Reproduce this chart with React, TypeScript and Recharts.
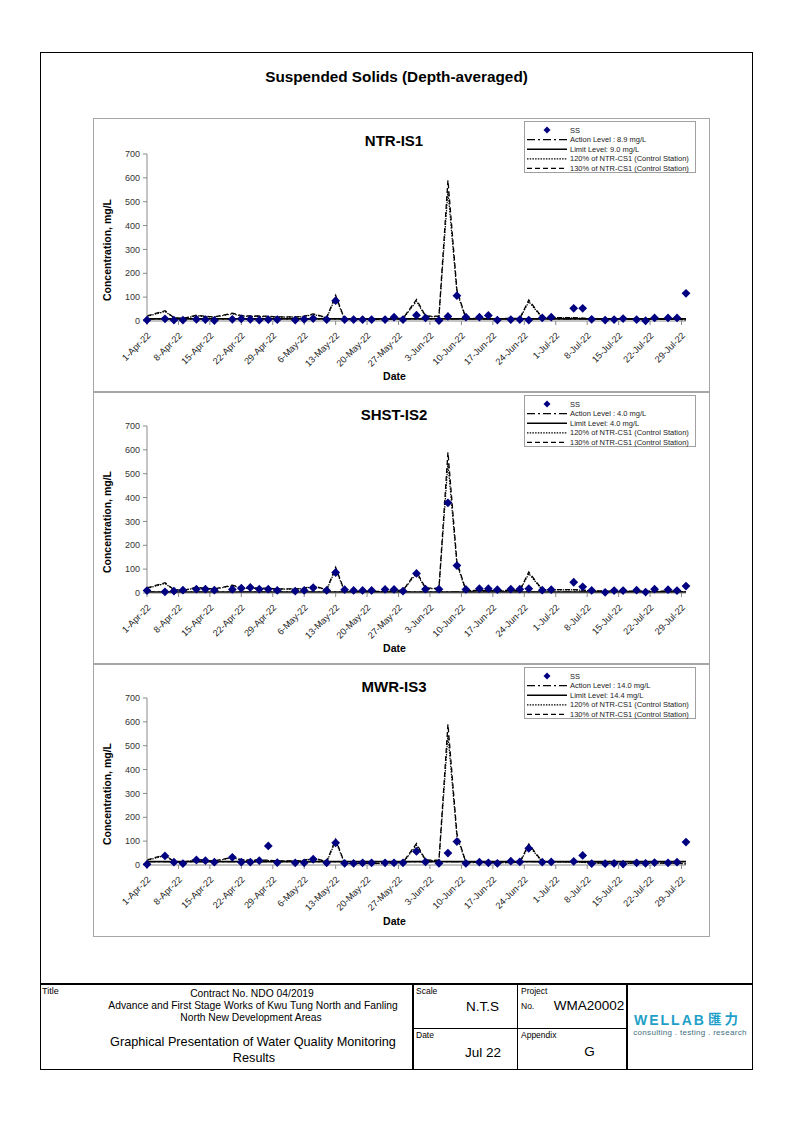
import React from 'react';
import { ComposedChart, Line, XAxis, YAxis, Label } from 'recharts';

const FONT = '"Liberation Sans", Arial, Helvetica, sans-serif';

// sampling dates (d-MMM-yy)
const sampleDates = [
  '1-Apr-22', '5-Apr-22', '7-Apr-22', '9-Apr-22', '12-Apr-22', '14-Apr-22', '16-Apr-22', '20-Apr-22',
  '22-Apr-22', '24-Apr-22', '26-Apr-22', '28-Apr-22', '30-Apr-22', '4-May-22', '6-May-22', '8-May-22',
  '11-May-22', '13-May-22', '15-May-22', '17-May-22', '19-May-22', '21-May-22', '24-May-22', '26-May-22',
  '28-May-22', '31-May-22', '2-Jun-22', '5-Jun-22', '7-Jun-22', '9-Jun-22', '11-Jun-22', '14-Jun-22',
  '16-Jun-22', '18-Jun-22', '21-Jun-22', '23-Jun-22', '25-Jun-22', '28-Jun-22', '30-Jun-22', '5-Jul-22',
  '7-Jul-22', '9-Jul-22', '12-Jul-22', '14-Jul-22', '16-Jul-22', '19-Jul-22', '21-Jul-22', '23-Jul-22',
  '26-Jul-22', '28-Jul-22', '30-Jul-22',
];

const tickLabels = [
  '1-Apr-22', '8-Apr-22', '15-Apr-22', '22-Apr-22', '29-Apr-22', '6-May-22', '13-May-22', '20-May-22',
  '27-May-22', '3-Jun-22', '10-Jun-22', '17-Jun-22', '24-Jun-22', '1-Jul-22', '8-Jul-22', '15-Jul-22',
  '22-Jul-22', '29-Jul-22',
];
const yTicks = [0, 100, 200, 300, 400, 500, 600, 700];

// SS, mg/L
const ssNTR = [
  4, 9, 4, 4, 7, 6, 2, 7, 9, 7, 4, 6, 6, 4, 7, 10, 6, 85, 6, 6, 6, 6, 6, 16, 6, 24,
  13, 2, 19, 106, 16, 16, 23, 4, 6, 6, 4, 13, 16, 53, 53, 7, 4, 6, 10, 6, 1, 13, 13, 13, 116,
];
const ssSHST = [
  10, 5, 8, 12, 16, 16, 12, 15, 20, 23, 16, 16, 11, 8, 11, 22, 11, 86, 14, 11, 11, 11, 15, 15, 8, 82,
  16, 16, 378, 115, 15, 18, 18, 14, 16, 16, 18, 12, 14, 45, 26, 11, 3, 10, 10, 12, 4, 16, 14, 10, 29,
];
const ssMWR = [
  3, 38, 12, 6, 21, 18, 12, 32, 12, 12, 18, 80, 10, 9, 9, 24, 9, 93, 7, 7, 9, 9, 9, 9, 9, 57,
  13, 7, 50, 98, 7, 12, 9, 7, 16, 13, 70, 12, 13, 15, 40, 6, 6, 7, 4, 9, 7, 10, 9, 12, 96,
];

// 120% / 130% of NTR-CS1 (control station)
const ctrl120 = [
  19, 40, 13, 10, 22, 18, 16, 30, 21, 19, 19, 18, 16, 16, 18, 28, 13, 100, 6, 6, 6, 6, 6, 9, 10, 83,
  19, 18, 545, 120, 10, 10, 9, 9, 10, 10, 81, 13, 13, 13, 11, 9, 7, 7, 7, 7, 7, 7, 7, 7, 4,
];
const ctrl130 = [
  21, 43, 14, 11, 24, 20, 17, 33, 23, 21, 21, 20, 17, 17, 20, 30, 14, 108, 7, 7, 7, 7, 7, 10, 11, 90,
  21, 20, 590, 130, 11, 11, 10, 10, 11, 11, 88, 14, 14, 14, 12, 10, 8, 8, 8, 8, 8, 8, 8, 8, 4,
];

const stations = ['NTR-IS1', 'SHST-IS2', 'MWR-IS3'];
const ssSeries = [ssNTR, ssSHST, ssMWR];
const actionLevels = [8.9, 4.0, 14.0];
const limitLevels = [9.0, 4.0, 14.4];
const actionLabels = ['Action Level : 8.9 mg/L', 'Action Level : 4.0 mg/L', 'Action Level : 14.0 mg/L'];
const limitLabels = ['Limit Level: 9.0 mg/L', 'Limit Level: 4.0 mg/L', 'Limit Level: 14.4 mg/L'];

const MONTHS = ['Jan', 'Feb', 'Mar', 'Apr', 'May', 'Jun', 'Jul', 'Aug', 'Sep', 'Oct', 'Nov', 'Dec'];
const START = Date.UTC(2022, 3, 1);
function dayOf(label: string) {
  const [d, m, y] = label.split('-');
  return Math.round((Date.UTC(2000 + Number(y), MONTHS.indexOf(m), Number(d)) - START) / 86400000);
}
const tickDays = tickLabels.map(dayOf);

const NAVY = '#000080';
const AXIS = '#8a8a8a';

const renderDiamond = (p: any) => {
  const { cx, cy, index } = p;
  if (cx == null || cy == null) return <g key={`e${index}`} />;
  const r = 4.4;
  return (
    <polygon
      key={`d${index}`}
      points={`${cx},${cy - r} ${cx + r},${cy} ${cx},${cy + r} ${cx - r},${cy}`}
      fill={NAVY}
    />
  );
};

const XTick = (props: any) => {
  const { x, y, payload } = props;
  const label = tickLabels[tickDays.indexOf(payload.value)];
  return (
    <text
      transform={`translate(${x + 2},${y + 7}) rotate(-45)`}
      textAnchor="end"
      dominantBaseline="central"
      fontSize={9.2}
      fontFamily={FONT}
      fill="#222"
    >
      {label}
    </text>
  );
};

function LegendBox({ idx }: { idx: number }) {
  const rows = [8, 17.6, 27.2, 36.8, 46.4];
  const texts = ['SS', actionLabels[idx], limitLabels[idx], '120% of NTR-CS1 (Control Station)', '130% of NTR-CS1 (Control Station)'];
  return (
    <div style={{ position: 'absolute', left: 430, top: 2, width: 172, height: 52, border: '1px solid #a0a0a0', boxSizing: 'border-box', background: '#fff' }}>
      <svg width={170} height={50} style={{ position: 'absolute', left: 0, top: 0, overflow: 'visible' }}>
        <polygon points={`22,${rows[0] - 3.5} 25.5,${rows[0]} 22,${rows[0] + 3.5} 18.5,${rows[0]}`} fill={NAVY} />
        <line x1={2} x2={42} y1={rows[1]} y2={rows[1]} stroke="#000" strokeWidth={1.3} strokeDasharray="8 3 2 3" />
        <line x1={2} x2={42} y1={rows[2]} y2={rows[2]} stroke="#000" strokeWidth={1.6} />
        <line x1={2} x2={42} y1={rows[3]} y2={rows[3]} stroke="#000" strokeWidth={1.2} strokeDasharray="1.5 1.2" />
        <line x1={2} x2={42} y1={rows[4]} y2={rows[4]} stroke="#000" strokeWidth={1.3} strokeDasharray="5 3" />
        {texts.map((t, i) => (
          <text key={t} x={45} y={rows[i]} dominantBaseline="central" fontSize={7.5} fontFamily={FONT} fill="#222">
            {t}
          </text>
        ))}
      </svg>
    </div>
  );
}

function StationChart({ idx, top, height, plotTop }: { idx: number; top: number; height: number; plotTop: number }) {
  const ss = ssSeries[idx];
  const data = sampleDates.map((d, i) => ({
    day: dayOf(d),
    ss: ss[i],
    c120: ctrl120[i],
    c130: ctrl130[i],
    action: actionLevels[idx],
    limit: limitLevels[idx],
  }));
  const h = height - 2;
  return (
    <div style={{ position: 'absolute', left: 93, top, width: 617, height, border: '1px solid #a6a6a6', boxSizing: 'border-box', background: '#fff' }}>
      <div style={{ position: 'absolute', left: 300, top: 21, transform: 'translate(-50%, -50%)', fontSize: 15, fontWeight: 'bold', lineHeight: 1, whiteSpace: 'nowrap' }}>
        {stations[idx]}
      </div>
      <ComposedChart width={615} height={h} data={data} margin={{ top: plotTop, right: 23, bottom: 0, left: 0 }}>
        <XAxis
          type="number"
          dataKey="day"
          domain={[0, 120]}
          ticks={tickDays}
          interval={0}
          tick={XTick}
          tickSize={4}
          stroke={AXIS}
          height={h - plotTop - 167}
        >
          <Label value="Date" position="insideBottom" offset={11} dx={-22} fontSize={10.5} fontWeight="bold" fill="#000" fontFamily={FONT} />
        </XAxis>
        <YAxis
          type="number"
          domain={[0, 700]}
          ticks={yTicks}
          interval={0}
          width={53}
          tickSize={4}
          tickMargin={3}
          stroke={AXIS}
          tick={{ fontSize: 9, fill: '#333', fontFamily: FONT }}
        >
          <Label value="Concentration, mg/L" angle={-90} position="center" dx={-13.5} dy={12.5} fontSize={10.5} fontWeight="bold" fill="#000" fontFamily={FONT} />
        </YAxis>
        <Line type="linear" dataKey="c120" stroke="#000" strokeWidth={1.2} strokeDasharray="1.5 1.2" dot={false} activeDot={false} isAnimationActive={false} />
        <Line type="linear" dataKey="c130" stroke="#000" strokeWidth={1.3} strokeDasharray="5 3" dot={false} activeDot={false} isAnimationActive={false} />
        <Line type="linear" dataKey="action" stroke="#000" strokeWidth={1.3} strokeDasharray="8 3 2 3" dot={false} activeDot={false} isAnimationActive={false} />
        <Line type="linear" dataKey="limit" stroke="#000" strokeWidth={1.8} dot={false} activeDot={false} isAnimationActive={false} />
        <Line type="linear" dataKey="ss" stroke="none" dot={renderDiamond} activeDot={false} isAnimationActive={false} />
      </ComposedChart>
      <LegendBox idx={idx} />
    </div>
  );
}

function T({ x, y, size, children, anchor = 'start', bold = false, color = '#000', family = FONT, spacing = 0 }: any) {
  const tx = anchor === 'middle' ? '-50%' : anchor === 'end' ? '-100%' : '0';
  return (
    <div
      style={{
        position: 'absolute', left: x, top: y, transform: `translate(${tx}, -50%)`, fontSize: size, lineHeight: 1,
        fontWeight: bold ? 'bold' : 'normal', color, whiteSpace: 'nowrap', fontFamily: family, letterSpacing: spacing,
      }}
    >
      {children}
    </div>
  );
}

const line = (x: number, y: number, w: number, h: number) => (
  <div style={{ position: 'absolute', left: x, top: y, width: w, height: h, background: '#000' }} />
);

export default function App() {
  return (
    <div style={{ position: 'absolute', left: 0, top: 0, width: 794, height: 1123, background: '#fff', fontFamily: FONT, color: '#000' }}>
      <div style={{ position: 'absolute', left: 40, top: 52, width: 713, height: 1018, border: '1.5px solid #000', boxSizing: 'border-box' }} />
      <T x={396.5} y={77} size={15.3} anchor="middle" bold>Suspended Solids (Depth-averaged)</T>

      <StationChart idx={0} top={118} height={274} plotTop={35} />
      <StationChart idx={1} top={392} height={272} plotTop={33} />
      <StationChart idx={2} top={664} height={273} plotTop={33} />

      {/* footer table */}
      {line(40, 983, 713, 1.5)}
      {line(412, 983, 1.5, 86)}
      {line(516.5, 983, 1.5, 86)}
      {line(626, 983, 1.5, 86)}
      {line(412, 1027.5, 215, 1.5)}

      <T x={42} y={990.5} size={9}>Title</T>
      <T x={252} y={993.5} size={10.3} anchor="middle">Contract No. NDO 04/2019</T>
      <T x={253} y={1005.8} size={10.3} anchor="middle">Advance and First Stage Works of Kwu Tung North and Fanling</T>
      <T x={251} y={1017.5} size={10.3} anchor="middle">North New Development Areas</T>
      <T x={253} y={1041.5} size={12.7} anchor="middle">Graphical Presentation of Water Quality Monitoring</T>
      <T x={254} y={1058} size={12.7} anchor="middle">Results</T>

      <T x={416} y={990.5} size={8.5}>Scale</T>
      <T x={482.5} y={1006.5} size={13.5} anchor="middle">N.T.S</T>
      <T x={521} y={990.5} size={8.5}>Project</T>
      <T x={521} y={1005.5} size={8.5}>No.</T>
      <T x={589} y={1006} size={13.5} anchor="middle">WMA20002</T>
      <T x={416} y={1035} size={8.5}>Date</T>
      <T x={483} y={1052.7} size={13.5} anchor="middle">Jul 22</T>
      <T x={521} y={1035} size={8.5}>Appendix</T>
      <T x={589.5} y={1052} size={13.5} anchor="middle">G</T>

      <T x={634} y={1020} size={14} bold color="#1f9fc8" spacing={2}>WELLAB</T>
      <T x={708} y={1019} size={13.5} bold color="#1f9fc8" family={'"Noto Sans CJK SC", sans-serif'} spacing={3}>匯力</T>
      <T x={690} y={1032.5} size={8} anchor="middle" color="#3f6f80" spacing={0.3}>consulting . testing . research</T>
    </div>
  );
}
